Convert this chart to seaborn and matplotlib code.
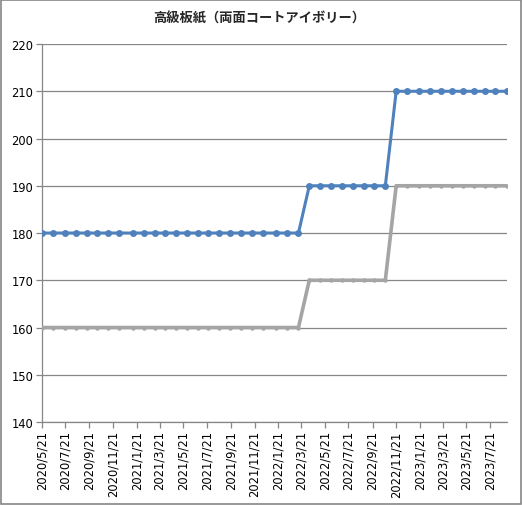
import numpy as np
import pandas as pd
import matplotlib
matplotlib.use("Agg")
import matplotlib.pyplot as plt
import matplotlib.dates as mdates
import seaborn as sns

sns.set_theme(style="white")
plt.rcParams['font.family'] = ['Noto Sans CJK JP', 'DejaVu Sans']

# survey dates (roughly every 4 weeks)
dates = [
    "2020-05-21", "2020-06-20", "2020-07-20", "2020-08-17", "2020-09-14",
    "2020-10-11", "2020-11-08", "2020-12-06", "2021-01-12", "2021-02-08",
    "2021-03-08", "2021-04-05", "2021-05-02", "2021-05-30", "2021-06-27",
    "2021-07-25", "2021-08-22", "2021-09-19", "2021-10-17", "2021-11-14",
    "2021-12-13", "2022-01-15", "2022-02-13", "2022-03-14", "2022-04-11",
    "2022-05-09", "2022-06-06", "2022-07-04", "2022-08-01", "2022-08-29",
    "2022-09-26", "2022-10-24", "2022-11-21", "2022-12-19", "2023-01-20",
    "2023-02-17", "2023-03-17", "2023-04-14", "2023-05-12", "2023-06-09",
    "2023-07-07", "2023-08-04", "2023-09-04",
]
upper = [180] * 24 + [190] * 8 + [210] * 11
lower = [160] * 24 + [170] * 8 + [190] * 11

title = "高級板紙（両面コートアイボリー）"
y_ticks = [140, 150, 160, 170, 180, 190, 200, 210, 220]

blue = "#4F81BD"
gray = "#A5A5A5"

df = pd.DataFrame({"date": pd.to_datetime(dates), "upper": upper, "lower": lower})

fig = plt.figure(figsize=(5.22, 5.06), dpi=100)
ax = fig.add_axes([0.0799, 0.164, 0.8923, 0.747])

sns.lineplot(data=df, x="date", y="lower", ax=ax, color=gray, lw=2.6,
             marker="o", markersize=3.2, markeredgewidth=0, zorder=3)
sns.lineplot(data=df, x="date", y="upper", ax=ax, color=blue, lw=2.2,
             marker="o", markersize=5, markeredgewidth=0, zorder=4)

ax.set_ylim(140, 220)
ax.set_yticks(y_ticks)
ax.set_xlim(df["date"].iloc[0], df["date"].iloc[-1])

xt = pd.date_range("2020-05-21", "2023-07-21", freq=pd.DateOffset(months=2))
ax.set_xticks(xt)
ax.set_xticklabels([f"{d.year}/{d.month}/{d.day}" for d in xt], rotation=90,
                   fontsize=8.3, family="DejaVu Sans")
ax.tick_params(axis="y", labelsize=8.3)
for lab in ax.get_yticklabels():
    lab.set_family("DejaVu Sans")

ax.set_xlabel("")
ax.set_ylabel("")
ax.grid(axis="y", color="#868686", lw=0.9)
ax.grid(axis="x", visible=False)
ax.set_axisbelow(True)

for side in ["top", "right"]:
    ax.spines[side].set_visible(False)
for side in ["left", "bottom"]:
    ax.spines[side].set_color("#868686")
    ax.spines[side].set_linewidth(0.9)
ax.tick_params(axis="both", direction="out", length=4, width=0.9,
               color="#868686", labelcolor="black", pad=2)
ax.tick_params(axis="x", bottom=True)
ax.tick_params(axis="y", left=True)

fig.text(0.497, 0.963, title, ha="center", va="center", fontsize=9.5,
         fontweight="bold")

# chart area border
fig.patches.append(plt.Rectangle((0.002, 0.002), 0.996, 0.996, transform=fig.transFigure,
                                 fill=False, edgecolor="#868686", lw=1.2))

fig.savefig("out.png", dpi=100)
